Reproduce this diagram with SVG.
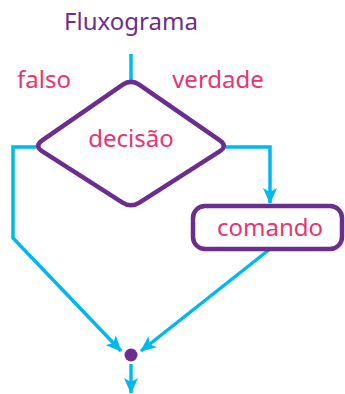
<svg xmlns="http://www.w3.org/2000/svg" width="345" height="394" viewBox="0 0 345 394">
<style>
.t{font-family:"Noto Sans","Open Sans",sans-serif;font-size:24px;text-anchor:middle}
.p{fill:#e8356f}
.title{fill:#6b2d90}
.c{fill:none;stroke:#00b8f0;stroke-width:3.5;stroke-linejoin:miter}
.n{fill:#fff;stroke:#6b2d90;stroke-width:4.5}
</style>
<defs>
<marker id="ah" viewBox="0 0 16 14" refX="15" refY="7" markerWidth="16" markerHeight="14" markerUnits="userSpaceOnUse" orient="auto">
<path d="M0,0 L16,7 L0,14 L4,7 Z" fill="#00b8f0"/>
</marker>
</defs>
<text class="t title" x="131" y="30">Fluxograma</text>
<text class="t p" x="44" y="88">falso</text>
<text class="t p" x="218" y="88">verdade</text>
<g id="connectors">
<path class="c" d="M131,54 V80"/>
<path class="c" d="M36,147 H13 V238 L121,351" marker-end="url(#ah)"/>
<path class="c" d="M226,147 H270 V203" marker-end="url(#ah)"/>
<path class="c" d="M270,249 L141,351" marker-end="url(#ah)"/>
<path class="c" d="M131,364 V393" marker-end="url(#ah)"/>
</g>
<g id="decisao">
<path class="n" d="M122.8,84.7 Q131,79 139.2,84.7 L219.8,140.3 Q228,146 219.6,151.4 L139.4,202.6 Q131,208 122.6,202.6 L42.4,151.4 Q34,146 42.2,140.3 Z"/>
<text class="t p" x="131" y="147">decisão</text>
</g>
<g id="comando">
<rect class="n" x="193" y="206" width="149" height="43" rx="12"/>
<text class="t p" x="270" y="236">comando</text>
</g>
<g id="juncao">
<circle cx="131" cy="355" r="6.5" fill="#6b2d90"/>
</g>
</svg>
